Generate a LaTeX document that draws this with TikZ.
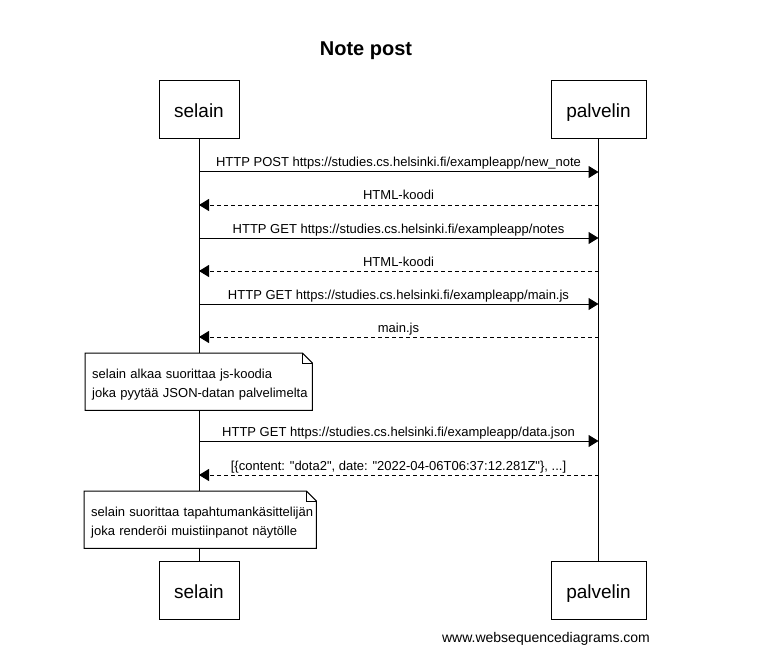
\documentclass[tikz,border=0pt]{standalone}
\usepackage{fontspec}
\setmainfont{Liberation Sans}
\usetikzlibrary{arrows.meta}
\pgfdeclarelayer{life}
\pgfdeclarelayer{notebg}
\pgfsetlayers{life,notebg,main}
\tikzset{
  actor/.style={draw, line width=1pt, fill=white, minimum height=58pt, inner sep=0pt, text height=16pt, text depth=0pt, font=\fontsize{19}{22}\selectfont},
  msglabel/.style={anchor=base, inner sep=0pt, font=\fontsize{13}{15}\selectfont},
  notetext/.style={anchor=north west, inner xsep=7pt, inner ysep=0pt, align=left, minimum height=57pt, font=\fontsize{13}{19}\selectfont},
  lifeline/.style={line width=1pt},
  req/.style={line width=1pt, -{Triangle[length=10pt,width=12pt]}},
  resp/.style={line width=1pt, dash pattern=on 4pt off 3pt, -{Triangle[length=10pt,width=12pt]}},
  noteshape/.style={draw, line width=1pt, fill=white, line join=miter}
}
\begin{document}
\begin{tikzpicture}[x=1pt,y=-1pt]
\useasboundingbox (0,0) rectangle (773,671);
\node[font=\bfseries\fontsize{20}{24}\selectfont] (title) at (366,51) {Note post};
% participants
\node[actor, minimum width=80pt] (s) at (199,110) {selain};
\node[actor, minimum width=95pt] (p) at (598.5,110) {palvelin};
\node[actor, minimum width=80pt] (sb) at (199,590) {selain};
\node[actor, minimum width=95pt] (pb) at (598.5,590) {palvelin};
\begin{pgfonlayer}{life}
\draw[lifeline] (s.south) -- (sb.north);
\draw[lifeline] (p.south) -- (pb.north);
\end{pgfonlayer}
% coordinates on lifelines
\foreach \n/\y in {1/172,2/205,3/238,4/271,5/304,6/337,7/441,8/475}{
  \coordinate (s\n) at (199,\y);
  \coordinate (p\n) at (598.5,\y);
}
% messages
\draw[req] (s1) -- (p1);
\node[msglabel] (l1) at (398.5,167) {HTTP POST https://studies.cs.helsinki.fi/exampleapp/new\_note};
\draw[resp] (p2) -- (s2);
\node[msglabel] (l2) at (398.5,200) {HTML-koodi};
\draw[req] (s3) -- (p3);
\node[msglabel] (l3) at (398.5,233) {HTTP GET https://studies.cs.helsinki.fi/exampleapp/notes};
\draw[resp] (p4) -- (s4);
\node[msglabel] (l4) at (398.5,266) {HTML-koodi};
\draw[req] (s5) -- (p5);
\node[msglabel] (l5) at (398.5,299) {HTTP GET https://studies.cs.helsinki.fi/exampleapp/main.js};
\draw[resp] (p6) -- (s6);
\node[msglabel] (l6) at (398.5,332) {main.js};
\draw[req] (s7) -- (p7);
\node[msglabel] (l7) at (398.5,436) {HTTP GET https://studies.cs.helsinki.fi/exampleapp/data.json};
\draw[resp] (p8) -- (s8);
\node[msglabel] (l8) at (398.5,470) {[\{content: \textquotedbl dota2\textquotedbl, date: \textquotedbl 2022-04-06T06:37:12.281Z\textquotedbl\}, ...]};
% notes (text node sits 3pt lower than its frame)
\node[notetext, text width=213pt] (n1) at (85,356) {\mbox{selain alkaa suorittaa js-koodia}\\\mbox{joka pyytää JSON-datan palvelimelta}};
\node[notetext, text width=218pt] (n2) at (84,494) {\mbox{selain suorittaa tapahtumankäsittelijän}\\\mbox{joka renderöi muistiinpanot näytölle}};
\begin{pgfonlayer}{notebg}
\foreach \nn in {n1,n2}{
  \draw[noteshape] ([yshift=3pt]\nn.north west) -- ([xshift=-10pt,yshift=3pt]\nn.north east) -- ([yshift=-7pt]\nn.north east) -- ([yshift=3pt]\nn.south east) -- ([yshift=3pt]\nn.south west) -- cycle;
  \draw[line width=1pt] ([xshift=-10pt,yshift=3pt]\nn.north east) -- ([xshift=-10pt,yshift=-7pt]\nn.north east) -- ([yshift=-7pt]\nn.north east);
}
\end{pgfonlayer}
\node[font=\fontsize{14}{16}\selectfont] (footer) at (546,639) {www.websequencediagrams.com};
\end{tikzpicture}
\end{document}
